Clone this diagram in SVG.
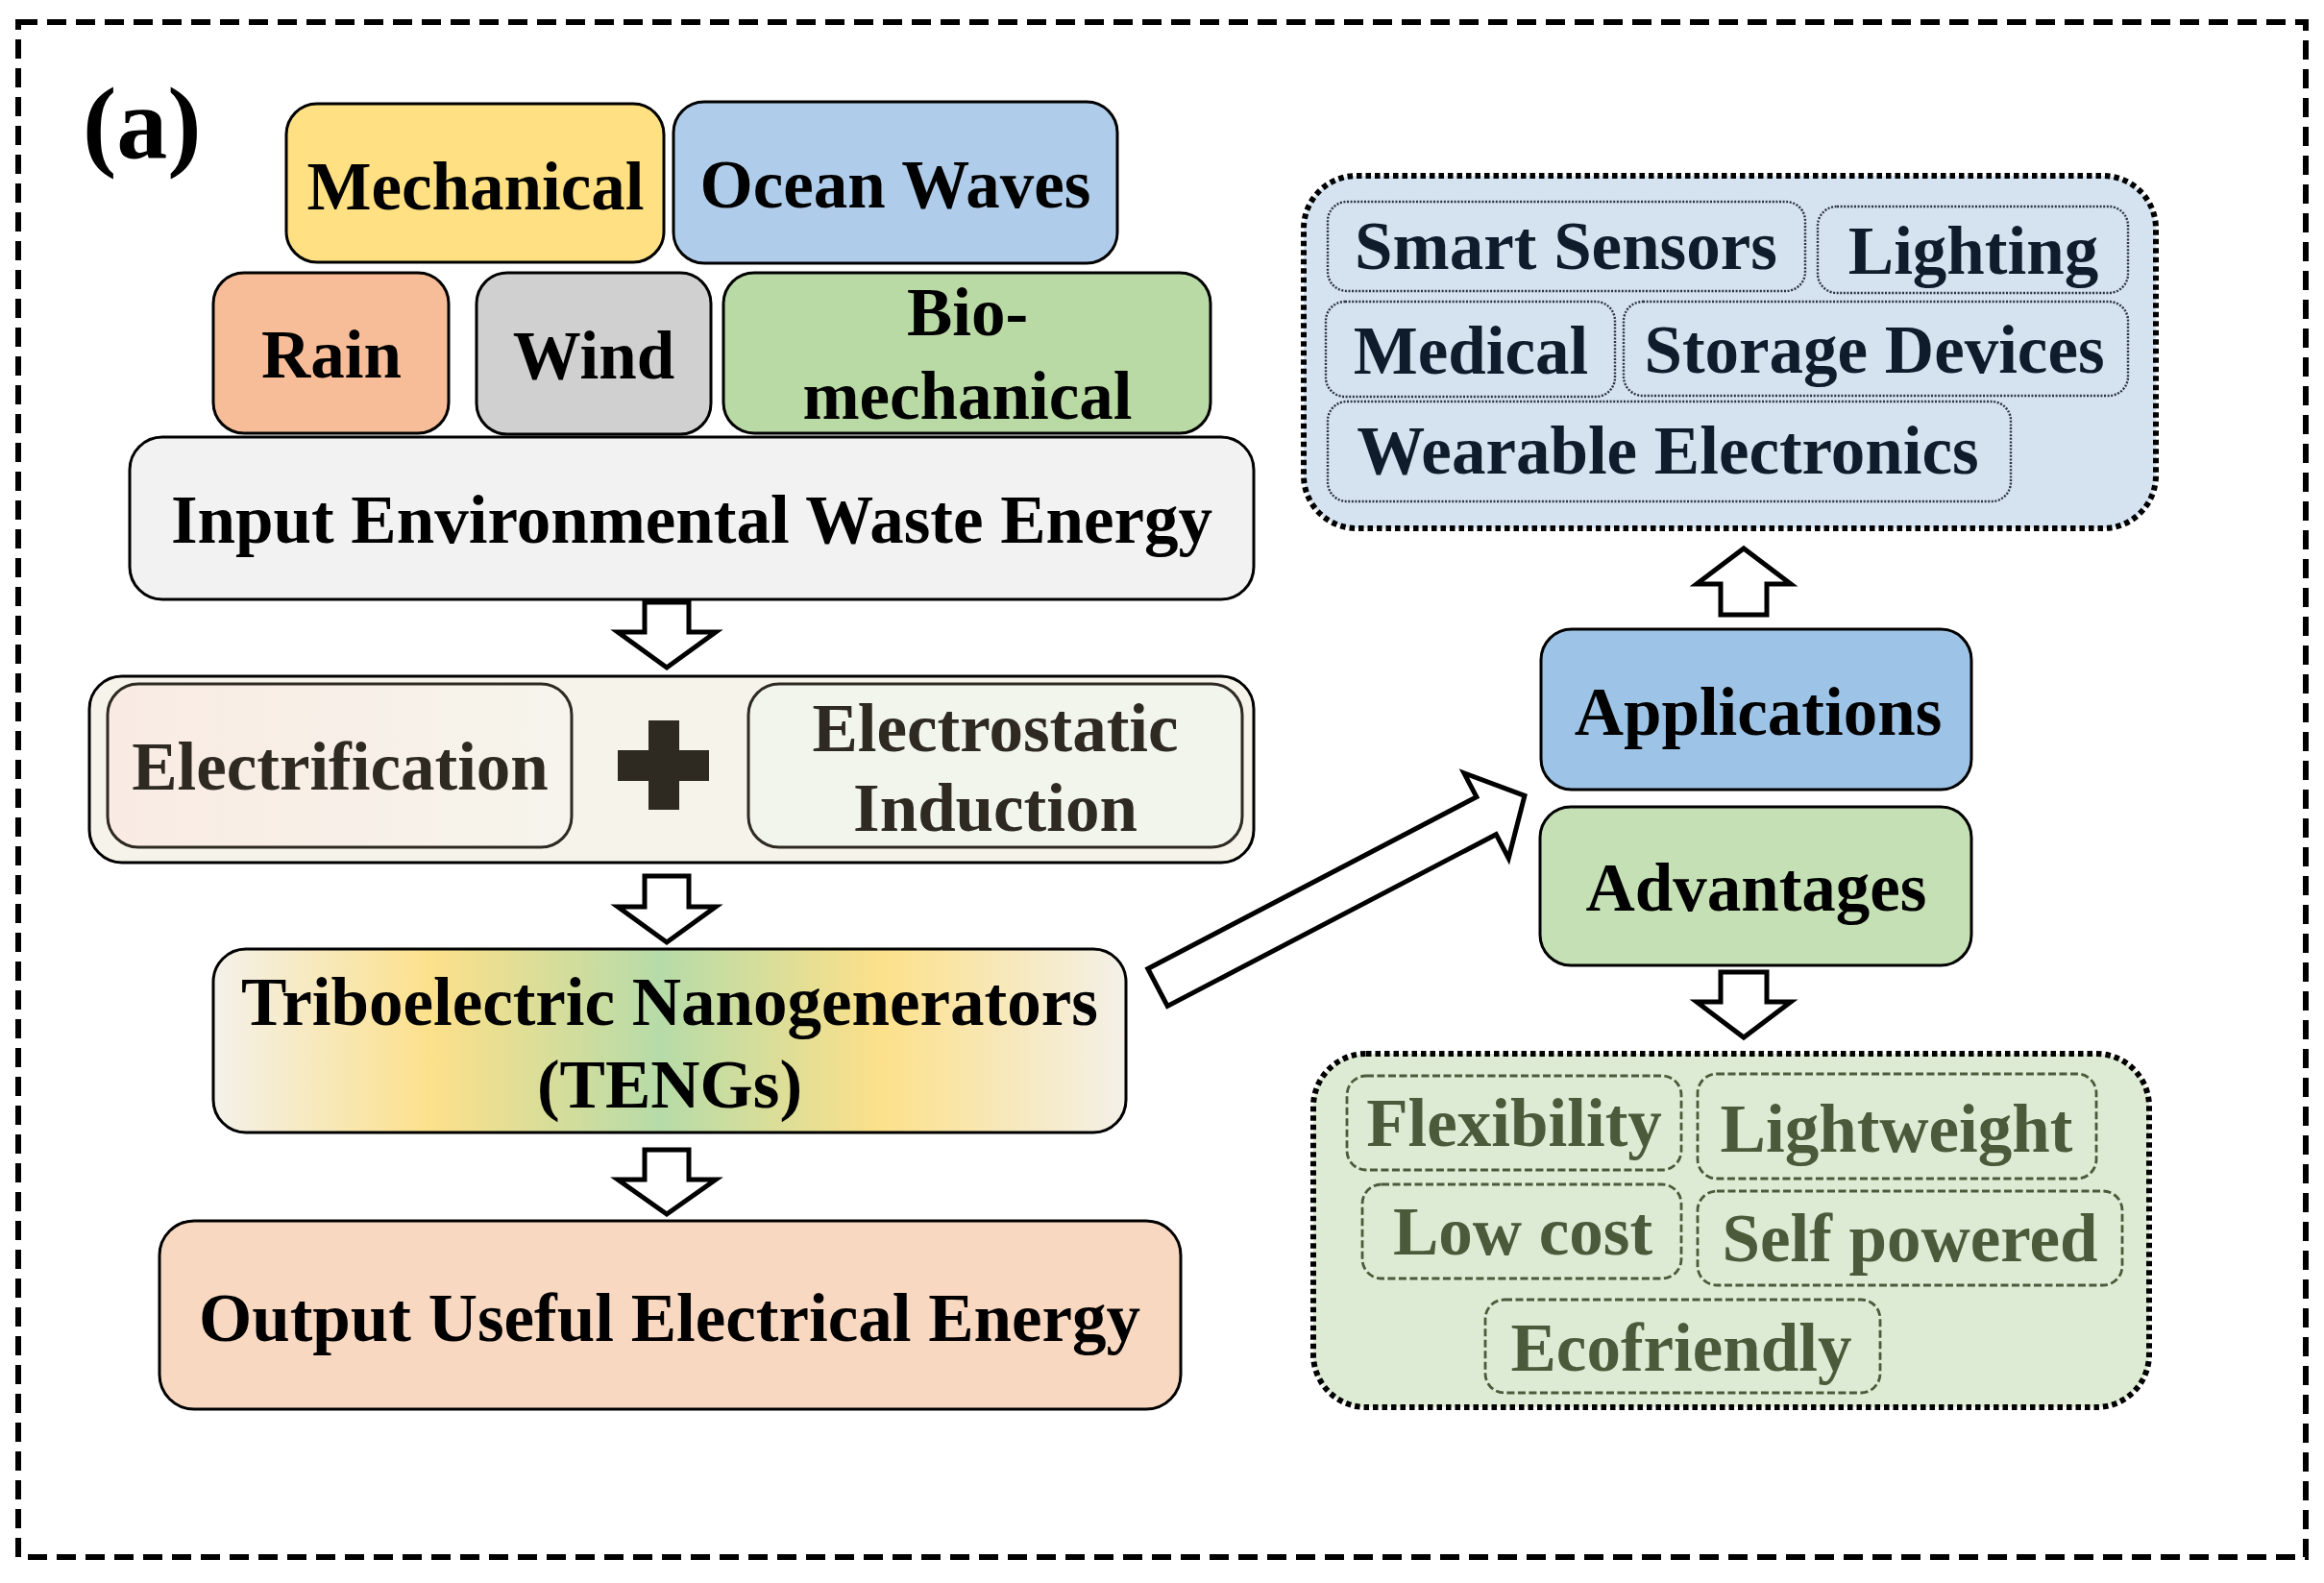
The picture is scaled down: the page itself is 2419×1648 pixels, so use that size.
<svg xmlns="http://www.w3.org/2000/svg" width="2419" height="1648" viewBox="0 0 2419 1648">
<defs>
<style>
.t{font-family:"Liberation Serif","Times New Roman",serif;font-weight:bold;font-size:71px;text-anchor:middle;fill:#000}
.box{stroke:#000;stroke-width:3}
.arr{fill:#fff;stroke:#000;stroke-width:5;stroke-linejoin:miter}
.dk{fill:#2e2a22}
.app{fill:#0e1c2b}
.adv{fill:#4a5a3a}
.outer{fill:none;stroke:#000;stroke-width:6;stroke-dasharray:20 10}
.cont{stroke:#000;stroke-width:6;stroke-dasharray:5.5 4}
.ibA{fill:none;stroke:#2a3440;stroke-width:2.4;stroke-dasharray:2 1.6}
.ibB{fill:none;stroke:#4a5a3a;stroke-width:2.8;stroke-dasharray:8 3.5}
</style>
<linearGradient id="gElec" x1="0" y1="0" x2="1" y2="0">
<stop offset="0" stop-color="#f9ebe3"/>
<stop offset="1" stop-color="#f6f4ec"/>
</linearGradient>
<linearGradient id="gTeng" x1="0" y1="0" x2="1" y2="0">
<stop offset="0" stop-color="#f3f1ea"/>
<stop offset="0.24" stop-color="#fce08a"/>
<stop offset="0.49" stop-color="#b6dba8"/>
<stop offset="0.73" stop-color="#fce08a"/>
<stop offset="1" stop-color="#f3f0e8"/>
</linearGradient>
</defs>
<rect width="2419" height="1648" fill="#fff"/>
<rect class="outer" x="19" y="23" width="2381" height="1598"/>
<text x="86" y="164" style="font-family:'Liberation Serif','Times New Roman',serif;font-weight:bold;font-size:106px;fill:#000">(a)</text>

<g id="mechanical"><rect class="box" x="298" y="108" width="393" height="165" rx="32" fill="#ffe083"/><text class="t" x="495" y="218">Mechanical</text></g>
<g id="ocean-waves"><rect class="box" x="701" y="106" width="462" height="168" rx="32" fill="#afcdea"/><text class="t" x="932" y="216">Ocean Waves</text></g>
<g id="rain"><rect class="box" x="222" y="284" width="245" height="167" rx="32" fill="#f6bd98"/><text class="t" x="345" y="393">Rain</text></g>
<g id="wind"><rect class="box" x="496" y="284" width="244" height="168" rx="32" fill="#d0d0d0"/><text class="t" x="618" y="394">Wind</text></g>
<g id="bio-mechanical"><rect class="box" x="753" y="284" width="507" height="167" rx="32" fill="#badaa5"/><text class="t" x="1007" y="349">Bio-</text><text class="t" x="1007" y="436">mechanical</text></g>
<g id="input"><rect class="box" x="135" y="455" width="1170" height="169" rx="34" fill="#f2f2f2"/><text class="t" x="720" y="565">Input Environmental Waste Energy</text></g>

<g id="mechanism">
<rect class="box" x="93" y="704" width="1212" height="194" rx="34" fill="#f6f3eb"/>
<g id="electrification"><rect x="112" y="712" width="483" height="170" rx="32" fill="url(#gElec)" stroke="#2e2a22" stroke-width="3"/><text class="t dk" x="354" y="822">Electrification</text></g>
<g id="plus"><rect class="dk" x="675" y="750" width="32" height="93"/><rect class="dk" x="643" y="781" width="95" height="32"/></g>
<g id="electrostatic"><rect x="779" y="712" width="514" height="170" rx="32" fill="#f1f5ec" stroke="#2e2a22" stroke-width="3"/><text class="t dk" x="1036" y="782">Electrostatic</text><text class="t dk" x="1036" y="865">Induction</text></g>
</g>

<g id="tengs"><rect class="box" x="222" y="988" width="950" height="191" rx="34" fill="url(#gTeng)"/><text class="t" x="697" y="1067">Triboelectric Nanogenerators</text><text class="t" x="697" y="1153">(TENGs)</text></g>
<g id="output"><rect class="box" x="166" y="1271" width="1063" height="196" rx="36" fill="#f9d8c1"/><text class="t" x="697" y="1396">Output Useful Electrical Energy</text></g>

<g id="applications-list">
<rect class="cont" x="1357" y="183" width="887" height="367" rx="55" fill="#d5e3f0"/>
<rect class="ibA" x="1382" y="210" width="497" height="93" rx="20"/><text class="t app" x="1630" y="280">Smart Sensors</text>
<rect class="ibA" x="1892" y="215" width="323" height="90" rx="20"/><text class="t app" x="2054" y="285">Lighting</text>
<rect class="ibA" x="1380" y="314" width="301" height="99" rx="20"/><text class="t app" x="1531" y="389">Medical</text>
<rect class="ibA" x="1690" y="314" width="525" height="98" rx="20"/><text class="t app" x="1951" y="388">Storage Devices</text>
<rect class="ibA" x="1382" y="418" width="711" height="104" rx="20"/><text class="t app" x="1736" y="493">Wearable Electronics</text>
</g>

<g id="applications"><rect class="box" x="1604" y="655" width="448" height="167" rx="32" fill="#9dc3e6"/><text class="t" x="1830" y="765">Applications</text></g>
<g id="advantages"><rect class="box" x="1603" y="840" width="449" height="165" rx="32" fill="#c5e0b4"/><text class="t" x="1828" y="948">Advantages</text></g>

<g id="advantages-list">
<rect class="cont" x="1367" y="1097" width="870" height="368" rx="55" fill="#deebd4"/>
<rect class="ibB" x="1402" y="1120" width="348" height="98" rx="20"/><text class="t adv" x="1576" y="1193">Flexibility</text>
<rect class="ibB" x="1767" y="1118" width="415" height="109" rx="20"/><text class="t adv" x="1974" y="1199">Lightweight</text>
<rect class="ibB" x="1418" y="1233" width="332" height="98" rx="20"/><text class="t adv" x="1585" y="1306">Low cost</text>
<rect class="ibB" x="1767" y="1240" width="442" height="98" rx="20"/><text class="t adv" x="1988" y="1313">Self powered</text>
<rect class="ibB" x="1546" y="1353" width="411" height="97" rx="20"/><text class="t adv" x="1750" y="1427">Ecofriendly</text>
</g>

<g id="connectors">
<polygon class="arr" points="671,627 717,627 717,658 745,658 694,695 643,658 671,658"/>
<polygon class="arr" points="671,912 717,912 717,944 745,944 694,981 643,944 671,944"/>
<polygon class="arr" points="671,1197 717,1197 717,1228 745,1228 694,1264 643,1228 671,1228"/>
<polygon class="arr" points="1791,640 1839,640 1839,608 1864,608 1815,571 1766,608 1791,608"/>
<polygon class="arr" points="1791,1012 1839,1012 1839,1043 1864,1043 1815,1080 1766,1043 1791,1043"/>
<polygon class="arr" transform="translate(1205,1028) rotate(-27.6)" points="0,-22 386,-22 386,-50 431,0 386,50 386,22 0,22"/>
</g>
</svg>
